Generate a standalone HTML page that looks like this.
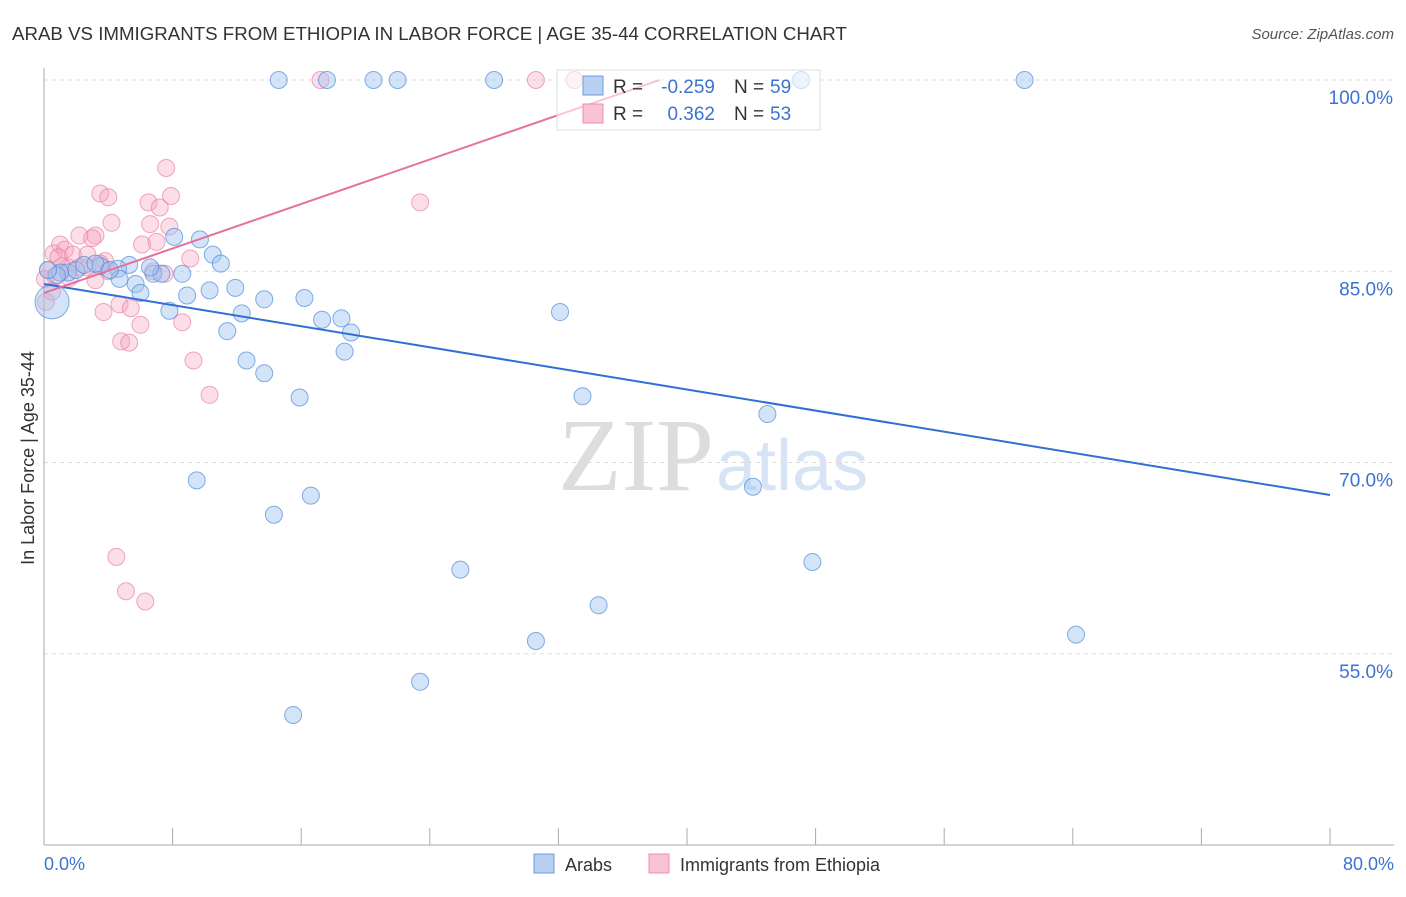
<!DOCTYPE html>
<html><head><meta charset="utf-8"><style>
body{margin:0;background:#fff;font-family:"Liberation Sans",sans-serif}
svg text{font-family:"Liberation Sans",sans-serif}
</style></head><body>
<svg width="1406" height="892">
<text x="12" y="40" font-size="18.7" fill="#333">ARAB VS IMMIGRANTS FROM ETHIOPIA IN LABOR FORCE | AGE 35-44 CORRELATION CHART</text>
<text x="1394" y="39" font-size="15" fill="#555" text-anchor="end" font-style="italic">Source: ZipAtlas.com</text>
<text x="714" y="490" font-size="104" fill="#ddd" text-anchor="end" style="font-family:'Liberation Serif',serif">ZIP</text>
<text x="716" y="490" font-size="72" fill="#d6e4f5">atlas</text>
<g id="grid"></g><g id="pts"></g><g id="lines"></g>
<text transform="translate(34,458) rotate(-90)" font-size="18" fill="#333" text-anchor="middle">In Labor Force | Age 35-44</text>
<text x="44" y="870" font-size="18" fill="#3b73d1">0.0%</text>
<text x="1394" y="870" font-size="18" fill="#3b73d1" text-anchor="end">80.0%</text>
<g>
<rect x="557" y="70" width="263" height="60" fill="rgba(255,255,255,0.6)" stroke="#ddd"/>
<rect x="583" y="76" width="20" height="19" fill="#b8d0f2" stroke="#6d9be0"/>
<rect x="583" y="104" width="20" height="19" fill="#f8c3d3" stroke="#ec8fae"/>
<text x="613" y="93" font-size="19" fill="#333">R =</text>
<text x="715" y="93" font-size="19" fill="#3b73d1" text-anchor="end">-0.259</text>
<text x="734" y="93" font-size="19" fill="#333">N =</text>
<text x="770" y="93" font-size="19" fill="#3b73d1">59</text>
<text x="613" y="120" font-size="19" fill="#333">R =</text>
<text x="715" y="120" font-size="19" fill="#3b73d1" text-anchor="end">0.362</text>
<text x="734" y="120" font-size="19" fill="#333">N =</text>
<text x="770" y="120" font-size="19" fill="#3b73d1">53</text>
</g>
<g>
<rect x="534" y="854" width="20" height="19" fill="#b8d0f2" stroke="#6d9be0"/>
<text x="565" y="871" font-size="18" fill="#333">Arabs</text>
<rect x="649" y="854" width="20" height="19" fill="#f8c3d3" stroke="#ec8fae"/>
<text x="680" y="871" font-size="18" fill="#333">Immigrants from Ethiopia</text>
</g>
</svg>
<script>
const yTicks=[100,85,70,55];
const yTickLabels=["100.0%","85.0%","70.0%","55.0%"];
const blueX=[14.6,17.6,20.5,22,28,47.1,61,8.1,9.7,10.5,11,5.3,1.5,2,3.5,4.6,6.8,7.3,8.6,4.7,5.7,6,8.9,10.3,11.9,13.7,12.3,7.8,17.3,18.5,16.2,19.1,11.4,18.7,12.6,13.7,15.9,32.1,33.5,45,9.5,16.6,14.3,44.1,47.8,25.9,34.5,30.6,64.2,23.4,15.5,0.5,2.5,3.2,1,4.1,6.6,0.8,0.25];
const blueY=[100,100,100,100,100,100,100,87.7,87.5,86.3,85.6,85.5,84.9,85.1,85.4,85.2,84.8,84.8,84.8,84.4,84,83.3,83.1,83.5,83.7,82.8,81.7,81.9,81.2,81.3,82.9,80.2,80.3,78.7,78,77,75.1,81.8,75.2,73.8,68.6,67.4,65.9,68.1,62.2,61.6,58.8,56,56.5,52.8,50.2,82.6,85.5,85.6,84.9,85.1,85.3,84.7,85.1];
const pinkX=[17.2,30.6,33,7.6,3.5,4,7.9,6.5,7.2,4.2,6.6,7.8,2.2,3.2,3,1,6.1,7,0.6,1.3,1.8,2.7,9.1,3.8,23.4,0.25,1.1,2.2,4,6.8,7.5,0.06,0.7,1.6,3.2,4.7,5.4,3.7,6,8.6,4.8,5.3,9.3,10.3,4.5,5.1,6.3,0.12,0.5,2.7,1.5,3.5,0.9];
const pinkY=[100,100,100,93.1,91.1,90.8,90.9,90.4,90,88.8,88.7,88.5,87.8,87.8,87.6,87.1,87.1,87.3,86.4,86.7,86.3,86.3,86,85.8,90.4,85.1,85.4,85.3,85,85,84.8,84.4,84.6,84.5,84.3,82.4,82.1,81.8,80.8,81,79.5,79.4,78,75.3,62.6,59.9,59.1,82.6,83.4,85.3,85.3,85.6,86.1];
const blueTrend=[84.0,67.45];
const pinkTrend=[83.3,100.0,38.3];
const sx=v=>44+v*16.075, sy=v=>80+(100-v)*12.75;
const NS="http://www.w3.org/2000/svg";
function mk(t,a,p){const e=document.createElementNS(NS,t);for(const k in a)e.setAttribute(k,a[k]);p.appendChild(e);return e;}
const grid=document.getElementById('grid');
yTicks.forEach((t,i)=>{
 const l=mk('line',{x1:44,x2:1394,y1:sy(t),y2:sy(t),stroke:'#ddd','stroke-dasharray':'4,4'},grid);
 
 
 const tx=mk('text',{x:1393,y:sy(t)+24,'font-size':19,fill:'#3b73d1','text-anchor':'end'},grid);
 tx.textContent=yTickLabels[i];
 
 
});
const ax=mk('line',{x1:44,x2:44,y1:68,y2:845,stroke:'#aaa'},grid);


const bx=mk('line',{x1:44,x2:1394,y1:845,y2:845,stroke:'#aaa'},grid);


for(let i=0;i<=10;i++){const v=i*8;const t=mk('line',{x1:sx(v),x2:sx(v),y1:828,y2:845,stroke:'#aaa'},grid);
 
 }
const pts=document.getElementById('pts');
pinkX.forEach((x,i)=>{const c=mk('circle',{cx:sx(x),cy:sy(pinkY[i]),r:8.5,fill:'rgba(244,160,186,0.35)',stroke:'rgba(236,130,165,0.7)'},pts);
 
 });
blueX.forEach((x,i)=>{const c=mk('circle',{cx:sx(x),cy:sy(blueY[i]),r:i==51?17:8.5,fill:'rgba(160,195,240,0.45)',stroke:'rgba(80,140,220,0.7)'},pts);
 
 });
const lines=document.getElementById('lines');
const bl=mk('line',{x1:sx(0),y1:sy(blueTrend[0]),x2:sx(80),y2:sy(blueTrend[1]),stroke:'#2f6fd6','stroke-width':2},lines);


const pl=mk('line',{x1:sx(0),y1:sy(pinkTrend[0]),x2:sx(pinkTrend[2]),y2:sy(pinkTrend[1]),stroke:'#e8709a','stroke-width':2},lines);


</script>
</body></html>
